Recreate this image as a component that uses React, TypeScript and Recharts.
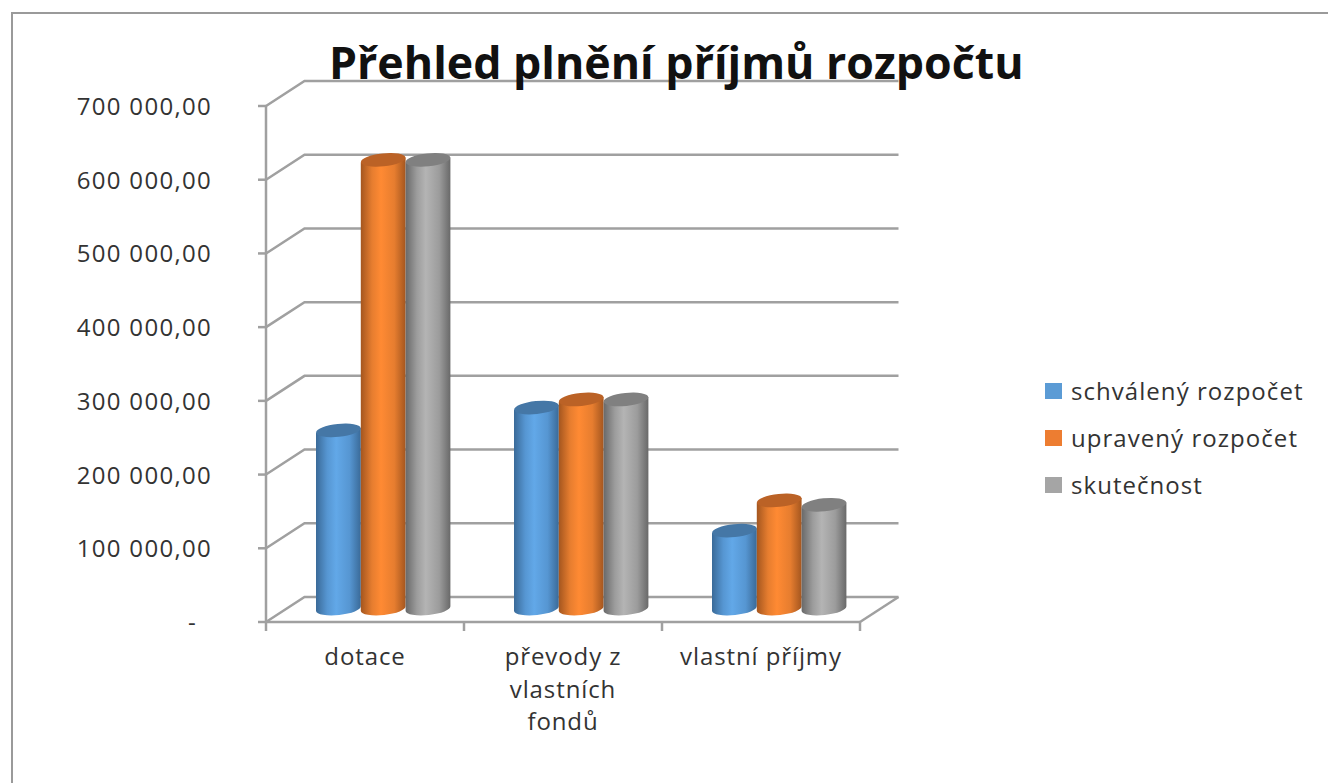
import { BarChart, Bar, XAxis, YAxis, CartesianGrid, Legend } from 'recharts';

const categories = ['dotace', 'převody z\nvlastních\nfondů', 'vlastní příjmy'];
const approved = [243000, 274000, 107000];
const adjusted = [610000, 285000, 148000];
const actual = [610000, 285000, 142000];
const yTicks = [0, 100000, 200000, 300000, 400000, 500000, 600000, 700000];
const seriesNames = ['schválený rozpočet', 'upravený rozpočet', 'skutečnost'];

const data = categories.map((name, i) => ({
  name,
  approved: approved[i],
  adjusted: adjusted[i],
  actual: actual[i],
}));

const FONT = '"Open Sans", sans-serif';
const TEXT = '#333333';
const GRID = '#a0a0a0';
// depth of the fake 3D box
const DX = 38.5;
const DY = -25;
const BAND = 198;

const fmt = (v: number) =>
  String(v).replace(/\B(?=(\d{3})+$)/g, ' ') + ',00';

function YTick({ x, y, payload }: any) {
  const zero = payload.value === 0;
  return (
    <text
      x={zero ? x - 15 : x}
      y={y + 9}
      textAnchor="end"
      fontFamily={FONT}
      fontSize={24}
      letterSpacing={1.3}
      fill={TEXT}
    >
      {zero ? '-' : fmt(payload.value)}
    </text>
  );
}

function XTick({ x, y, payload, index }: any) {
  const lines = String(payload.value).split('\n');
  const left = x - BAND / 2;
  return (
    <g>
      <line x1={left} x2={left} y1={y - 8} y2={y + 1} stroke={GRID} strokeWidth={2.5} />
      {index === categories.length - 1 && (
        <line x1={left + BAND} x2={left + BAND} y1={y - 8} y2={y + 1} stroke={GRID} strokeWidth={2.5} />
      )}
      <text textAnchor="middle" fontFamily={FONT} fontSize={24} letterSpacing={0.9} fill={TEXT}>
        {lines.map((l, i) => (
          <tspan key={i} x={x} y={y + 35 + i * 32.5}>
            {l}
          </tspan>
        ))}
      </text>
    </g>
  );
}

function WallLine({ x1, x2, y1 }: any) {
  const isFloor = y1 > 600;
  return (
    <g fill="none" stroke={GRID} strokeWidth={2.5}>
      <polyline points={`${x1},${y1} ${x1 + DX},${y1 + DY} ${x2 + DX},${y1 + DY}`} />
      {isFloor && <line x1={x2} y1={y1} x2={x2 + DX} y2={y1 + DY} />}
    </g>
  );
}

const cylinder = (id: string, topColor: string) => (props: any) => {
  const { x, y, width, height } = props;
  const left = x + 18;
  const right = left + width;
  const top = y + DY / 2;
  const bottom = top + height - 1;
  const rx = width / 2;
  const ry = 6.5;
  const tilt = 2.4;
  return (
    <g>
      <path
        d={`M${left},${top + tilt} L${left},${bottom + tilt} A${rx},${ry} -6 0 0 ${right},${bottom - tilt} L${right},${top - tilt} Z`}
        fill={`url(#${id})`}
      />
      <ellipse
        cx={left + rx}
        cy={top}
        rx={rx}
        ry={ry}
        fill={topColor}
        transform={`rotate(-6 ${left + rx} ${top})`}
      />
    </g>
  );
};

function Gradient({ id, edge, mid, light }: any) {
  return (
    <linearGradient id={id} x1="0" x2="1" y1="0" y2="0">
      <stop offset="0%" stopColor={edge} />
      <stop offset="25%" stopColor={mid} />
      <stop offset="45%" stopColor={light} />
      <stop offset="75%" stopColor={mid} />
      <stop offset="100%" stopColor={edge} />
    </linearGradient>
  );
}

function LegendBox({ payload }: any) {
  return (
    <div style={{ fontFamily: FONT, fontSize: 24, letterSpacing: 1.05, color: TEXT }}>
      {(payload || []).map((p: any) => (
        <div key={p.value} style={{ display: 'flex', alignItems: 'center', height: 47 }}>
          <span style={{ width: 17, height: 16, background: p.color, marginRight: 9 }} />
          {p.value}
        </div>
      ))}
    </div>
  );
}

export default function App() {
  return (
    <div style={{ position: 'absolute', left: 0, top: 0, width: 1328, height: 783, overflow: 'hidden', background: '#fff' }}>
      <div
        style={{
          position: 'absolute',
          left: 11,
          top: 12,
          width: 1400,
          height: 900,
          borderLeft: '2px solid #9a9a9a',
          borderTop: '2px solid #9a9a9a',
        }}
      />
      <div style={{ position: 'absolute', left: 0, top: 0 }}>
        <BarChart
          width={1328}
          height={783}
          data={data}
          margin={{ top: 106, right: 468, bottom: 0, left: 0 }}
          barSize={44.8}
          barGap={0}
        >
          <defs>
            <Gradient id="blueBody" edge="#3a6a98" mid="#5696d2" light="#62a8e8" />
            <Gradient id="orangeBody" edge="#a4561f" mid="#e67d2f" light="#ff8a33" />
            <Gradient id="greyBody" edge="#696969" mid="#9c9c9c" light="#b4b4b4" />
          </defs>
          <CartesianGrid vertical={false} horizontal={(p: any) => <WallLine key={p.y1} {...p} />} />
          <XAxis
            dataKey="name"
            height={161}
            interval={0}
            tickLine={false}
            axisLine={{ stroke: GRID, strokeWidth: 2.5 }}
            tick={XTick}
          />
          <YAxis
            width={266}
            domain={[0, 700000]}
            ticks={yTicks}
            interval={0}
            tickSize={8}
            tickMargin={46}
            axisLine={{ stroke: GRID, strokeWidth: 2.5 }}
            tickLine={{ stroke: GRID, strokeWidth: 2.5 }}
            tick={YTick}
          />
          <Bar dataKey="approved" name={seriesNames[0]} fill="#5b9bd5" isAnimationActive={false} shape={cylinder('blueBody', '#4577a6')} />
          <Bar dataKey="adjusted" name={seriesNames[1]} fill="#ed7d31" isAnimationActive={false} shape={cylinder('orangeBody', '#bb6226')} />
          <Bar dataKey="actual" name={seriesNames[2]} fill="#a5a5a5" isAnimationActive={false} shape={cylinder('greyBody', '#808080')} />
          <Legend
            layout="vertical"
            align="center"
            verticalAlign="middle"
            itemSorter={null}
            wrapperStyle={{ left: 1045, top: 367, width: 280 }}
            content={LegendBox}
          />
        </BarChart>
      </div>
      <div
        style={{
          position: 'absolute',
          left: 329,
          top: 31,
          fontFamily: FONT,
          fontWeight: 700,
          fontSize: 44.7,
          whiteSpace: 'nowrap',
          color: '#111',
        }}
      >
        Přehled plnění příjmů rozpočtu
      </div>
    </div>
  );
}
